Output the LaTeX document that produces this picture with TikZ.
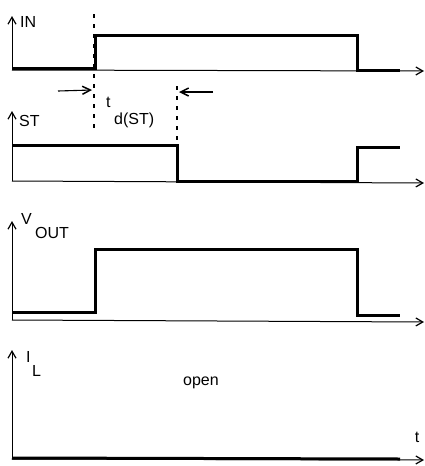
\documentclass[tikz,border=0pt]{standalone}
\usepackage{fontspec}
\setmainfont{Liberation Sans}
\usetikzlibrary{arrows.meta}
\begin{document}
\begin{tikzpicture}[x=1pt,y=-1pt,
  axis/.style={line width=1pt,-{Straight Barb[length=7pt,width=8pt,line width=1.2pt]}},
  sig/.style={line width=3pt,line join=miter},
  dsh/.style={line width=1.1pt,dash pattern=on 4pt off 6pt},
  marker/.style={line width=1.1pt,-{Straight Barb[length=8pt,width=8pt,line width=1.5pt]}},
  lbl/.style={inner sep=0pt,font=\fontsize{16}{19}\selectfont}]
\useasboundingbox (0,0) rectangle (425,466);
% IN panel
\coordinate (inO) at (12,70);
\coordinate (inT) at (12,16);
\coordinate (inE) at (424,71);
\draw[axis] (inO) -- (inT);
\draw[axis] (inO) -- (inE);
\draw[sig] (12,68) -- (95,68) -- (95,35) -- (357,35) -- (357,70) -- (400,70);
\node[lbl,anchor=west] (lin) at (20,22) {IN};
% dashed markers
\coordinate (d1a) at (94,14);
\coordinate (d1b) at (94,132);
\coordinate (d2a) at (177,86);
\coordinate (d2b) at (177,145);
\draw[dsh] (d1a) -- (d1b);
\draw[dsh] (d2a) -- (d2b);
\coordinate (a1s) at (58,91);
\coordinate (a1e) at (92,90);
\coordinate (a2s) at (213,92);
\coordinate (a2e) at (179,92);
\draw[marker] (a1s) -- (a1e);
\draw[marker] (a2s) -- (a2e);
\node[lbl,anchor=west] (lt) at (106,102) {t};
\node[lbl,anchor=west] (ltd) at (114,120) {d(ST)};
% ST panel
\coordinate (stO) at (12,181);
\coordinate (stT) at (12,111);
\coordinate (stE) at (424,183);
\draw[axis] (stO) -- (stT);
\draw[axis] (stO) -- (stE);
\draw[sig] (12,145) -- (177,145) -- (177,181) -- (357,181) -- (357,147) -- (400,147);
\node[lbl,anchor=west] (lst) at (19,121) {ST};
% VOUT panel
\coordinate (vO) at (12,320);
\coordinate (vT) at (12,221);
\coordinate (vE) at (424,322);
\draw[axis] (vO) -- (vT);
\draw[axis] (vO) -- (vE);
\draw[sig] (12,312) -- (95,312) -- (95,249) -- (357,249) -- (357,315) -- (400,315);
\node[lbl,anchor=west] (lv) at (21,219) {V};
\node[lbl,anchor=west] (lvo) at (35,233) {OUT};
% IL panel
\coordinate (iO) at (12,459);
\coordinate (iT) at (12,350);
\coordinate (iE) at (424,460);
\draw[axis] (iO) -- (iT);
\draw[axis] (iO) -- (iE);
\draw[sig] (12,458) -- (400,459);
\node[lbl,anchor=west] (li) at (26,357) {I};
\node[lbl,anchor=west] (lil) at (32,371) {L};
\node[lbl] (lopen) at (201,383) {open};
\node[lbl] (ltt) at (417,437) {t};
\end{tikzpicture}
\end{document}
